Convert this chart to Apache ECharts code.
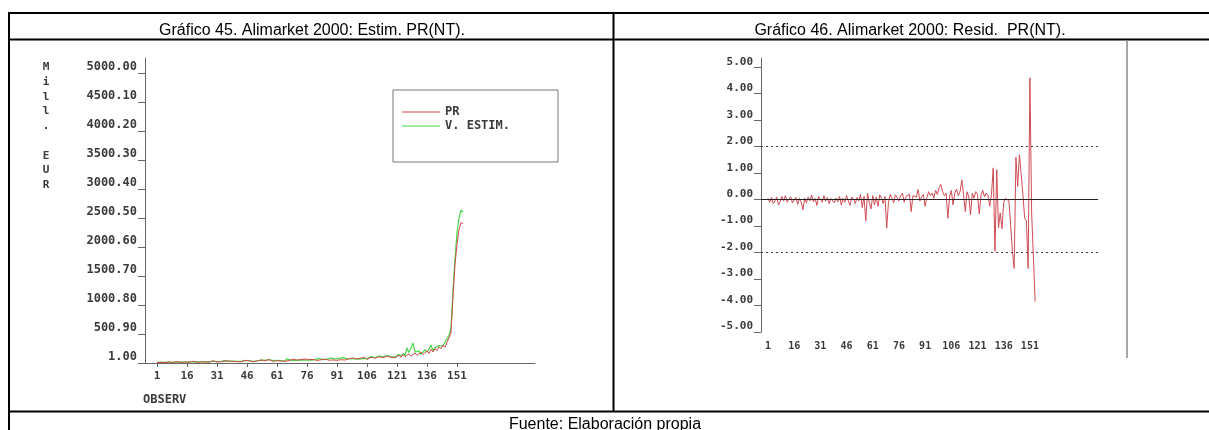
<!DOCTYPE html>
<html>
<head>
<meta charset="utf-8">
<script src="https://cdn.jsdelivr.net/npm/echarts@6.0.0/dist/echarts.min.js"></script>
<style>
  html, body { margin: 0; padding: 0; background: #fff; }
  #chart { width: 1209px; height: 430px; }
</style>
</head>
<body>
<div id="chart"></div>
<script>
// ---------- DATA ----------
const titleLeft = 'Gráfico 45. Alimarket 2000: Estim. PR(NT).';
const titleRight = 'Gráfico 46. Alimarket 2000: Resid.  PR(NT).';
const sourceNote = 'Fuente: Elaboración propia';
const yNameLeft = ['M', 'i', 'l', 'l', '.', ' ', 'E', 'U', 'R'];
const xNameLeft = 'OBSERV';
const legendNames = ['PR', 'V. ESTIM.'];

// tick labels
const xTickLabels = [1, 16, 31, 46, 61, 76, 91, 106, 121, 136, 151];
const leftYTicks = [1.00, 500.90, 1000.80, 1500.70, 2000.60, 2500.50, 3000.40, 3500.30, 4000.20, 4500.10, 5000.00];
const rightYTicks = [-5, -4, -3, -2, -1, 0, 1, 2, 3, 4, 5];
const bandLimits = [2, -2];

// PR (observed), obs 1..154
const prValues = [
  8, 14, 11, 19, 9, 16, 22, 13, 10, 18,
  25, 15, 12, 21, 17, 28, 14, 19, 31, 16,
  12, 24, 20, 35, 18, 27, 15, 22, 38, 26,
  19, 30, 23, 17, 41, 25, 33, 20, 29, 44,
  24, 36, 21, 30, 48, 27, 39, 32, 22, 46,
  35, 28, 52, 31, 43, 26, 58, 37, 30, 50,
  41, 62, 34, 47, 29, 55, 44, 38, 66, 40,
  52, 35, 61, 48, 70, 42, 57, 39, 64, 51,
  45, 73, 56, 41, 68, 60, 49, 78, 53, 62,
  47, 71, 58, 84, 52, 66, 75, 59, 90, 63,
  70, 55, 88, 67, 96, 61, 79, 102, 72, 85,
  68, 110, 81, 93, 74, 118, 86, 99, 125, 90,
  104, 135, 97, 148, 112, 126, 160, 118, 140, 175,
  132, 155, 190, 148, 170, 210, 165, 235, 190, 250,
  215, 280, 245, 310, 270, 360, 330, 520, 1150, 1700,
  2050, 2300, 2420, 2400
];

// V. ESTIM. (fitted), obs 1..154
const estValues = [
  12, 11, 15, 14, 13, 18, 17, 15, 14, 19,
  20, 18, 17, 22, 21, 24, 19, 23, 26, 21,
  20, 25, 24, 29, 23, 28, 22, 26, 32, 28,
  25, 31, 28, 24, 36, 29, 34, 27, 32, 39,
  30, 37, 28, 35, 43, 33, 40, 36, 30, 45,
  40, 35, 50, 38, 47, 36, 62, 45, 41, 55,
  48, 70, 43, 52, 40, 75, 50, 47, 80, 49,
  58, 45, 72, 56, 78, 51, 66, 50, 74, 60,
  55, 80, 63, 58, 75, 68, 59, 88, 62, 70,
  60, 82, 68, 95, 64, 76, 85, 70, 98, 72,
  80, 68, 99, 78, 108, 75, 92, 112, 84, 96,
  82, 118, 93, 106, 88, 128, 100, 112, 136, 104,
  118, 150, 112, 165, 130, 260, 180, 150, 345, 190,
  160, 210, 150, 175, 230, 190, 240, 310, 215, 265,
  240, 300, 330, 290, 360, 420, 480, 600, 1250, 1800,
  2250, 2500, 2640, 2600
];

// standardized residuals, obs 1..154
const residValues = [
  0.05, -0.10, 0.08, -0.15, -0.05, 0.10, -0.20, -0.08, 0.12, -0.05,
  0.15, -0.10, 0.02, 0.10, -0.12, -0.05, 0.08, -0.18, 0.05, -0.10,
  -0.38, 0.06, -0.12, 0.10, -0.05, 0.18, -0.08, 0.05, -0.22, 0.12,
  0.02, -0.10, 0.15, -0.06, 0.08, -0.15, 0.04, 0.10, -0.12, 0.06,
  -0.08, 0.12, -0.20, 0.05, -0.10, 0.15, -0.05, -0.22, 0.10, 0.02,
  -0.15, 0.08, -0.05, 0.20, -0.30, 0.12, -0.80, 0.25, -0.10, -0.35,
  0.15, -0.20, 0.10, -0.25, 0.18, 0.05, -0.15, 0.12, -1.07, -0.10,
  0.20, 0.05, -0.12, 0.18, 0.08, -0.05, 0.15, 0.25, -0.10, 0.12,
  0.05, 0.20, -0.45, 0.15, 0.22, 0.10, 0.38, -0.05, 0.12, 0.20,
  -0.25, 0.08, 0.30, 0.15, 0.25, 0.05, 0.35, 0.20, 0.45, 0.57,
  0.30, 0.15, 0.25, -0.70, 0.10, 0.35, -0.20, 0.25, 0.40, 0.15,
  0.30, 0.75, 0.20, -0.45, 0.30, 0.10, -0.57, 0.25, 0.05, 0.30,
  0.20, -0.54, 0.15, 0.35, 0.10, 0.25, 0.15, -0.25, 0.20, 1.20,
  -1.95, 1.13, -1.07, -0.50, -1.10, -0.10, 0.05, 0.10, -0.05, 0.00,
  -1.95, -2.60, 1.60, 0.50, 1.70, 1.70, 0.20, -0.70, -0.80, -2.60,
  4.60, -0.50, -0.44, -3.85
];

// ---------- BUILD ----------
const pairs = arr => arr.map((v, i) => [i + 1, v]);
const MONO = '"DejaVu Sans Mono", monospace';
const SANS = '"Liberation Sans", Arial, sans-serif';
const axisGray = '#666';
const labelColor = '#3a3a3a';

function hline(x1, x2, y, w, c) {
  return { type: 'line', silent: true, shape: { x1: x1, y1: y, x2: x2, y2: y }, style: { stroke: c || '#000', lineWidth: w } };
}
function vline(x, y1, y2, w, c) {
  return { type: 'line', silent: true, shape: { x1: x, y1: y1, x2: x, y2: y2 }, style: { stroke: c || '#000', lineWidth: w } };
}

const chart = echarts.init(document.getElementById('chart'), null, { renderer: 'canvas' });

const option = {
  animation: false,
  backgroundColor: '#fff',
  grid: [
    { left: 145, top: 58, width: 390, height: 305 },
    { left: 761, top: 58, width: 337, height: 274 }
  ],
  legend: {
    data: legendNames,
    left: 393, top: 90,
    orient: 'vertical',
    icon: 'rect',
    itemWidth: 38, itemHeight: 1,
    itemGap: 0,
    borderColor: '#777', borderWidth: 1,
    padding: [15, 48, 29, 9],
    textStyle: { fontFamily: MONO, fontWeight: 'bold', fontSize: 12, color: labelColor, lineHeight: 14 }
  },
  xAxis: [
    {
      gridIndex: 0, type: 'value', min: -5, max: 190,
      axisLine: { onZero: false, lineStyle: { color: axisGray, width: 1 } },
      axisTick: { customValues: xTickLabels, length: 4, lineStyle: { color: axisGray } },
      axisLabel: { customValues: xTickLabels, margin: 8, fontFamily: MONO, fontWeight: 'bold', fontSize: 11, color: labelColor },
      splitLine: { show: false }
    },
    {
      gridIndex: 1, type: 'value', min: -3, max: 190,
      axisLine: { show: false, onZero: false },
      axisTick: { show: false },
      axisLabel: { customValues: xTickLabels, margin: 9, fontFamily: MONO, fontWeight: 'bold', fontSize: 10, color: labelColor },
      splitLine: { show: false }
    }
  ],
  yAxis: [
    {
      gridIndex: 0, type: 'value', min: 1, max: 5259,
      axisLine: { show: true, onZero: false, lineStyle: { color: axisGray, width: 1 } },
      axisTick: { show: true, customValues: leftYTicks, length: 7, lineStyle: { color: axisGray } },
      axisLabel: {
        customValues: leftYTicks, margin: 8, verticalAlign: 'bottom',
        fontFamily: MONO, fontWeight: 'bold', fontSize: 12, color: labelColor,
        formatter: v => Number(v).toFixed(2)
      },
      splitLine: { show: false }
    },
    {
      gridIndex: 1, type: 'value', min: -5, max: 5.35,
      axisLine: { show: true, onZero: false, lineStyle: { color: axisGray, width: 1 } },
      axisTick: { show: true, customValues: rightYTicks, length: 7, lineStyle: { color: axisGray } },
      axisLabel: {
        customValues: rightYTicks, margin: 8, verticalAlign: 'bottom',
        fontFamily: MONO, fontWeight: 'bold', fontSize: 11, color: labelColor,
        formatter: v => Number(v).toFixed(2)
      },
      splitLine: { show: false }
    }
  ],
  series: [
    {
      name: 'V. ESTIM.', type: 'line', xAxisIndex: 0, yAxisIndex: 0,
      data: pairs(estValues), symbol: 'none', color: '#46d846',
      lineStyle: { color: '#46d846', width: 1.2 }
    },
    {
      name: 'PR', type: 'line', xAxisIndex: 0, yAxisIndex: 0,
      data: pairs(prValues), symbol: 'none', color: '#d24a4a',
      lineStyle: { color: '#d24a4a', width: 1 }
    },
    {
      name: 'Resid', type: 'line', xAxisIndex: 1, yAxisIndex: 1,
      data: pairs(residValues), symbol: 'none', color: '#d04c54',
      lineStyle: { color: '#d04c54', width: 1 },
      markLine: {
        silent: true, symbol: 'none', label: { show: false },
        data: [
          { yAxis: 0, lineStyle: { type: 'solid', color: '#222', width: 1 } },
          { yAxis: bandLimits[0], lineStyle: { type: [2, 3], color: '#444', width: 1 } },
          { yAxis: bandLimits[1], lineStyle: { type: [2, 3], color: '#444', width: 1 } }
        ]
      }
    }
  ],
  graphic: [
    // table borders
    hline(8, 1209, 13, 2),
    hline(8, 1209, 39.5, 2),
    hline(8, 1209, 411.5, 2),
    vline(9, 12, 430, 2),
    vline(613.5, 12, 412, 2),
    // border of the residual picture
    vline(1127, 40, 358, 1.5, '#888'),
    // headings
    { type: 'text', silent: true, style: { text: titleLeft, x: 312, y: 31, align: 'center', verticalAlign: 'middle', font: '16px ' + SANS, fill: '#000' } },
    { type: 'text', silent: true, style: { text: titleRight, x: 910, y: 31, align: 'center', verticalAlign: 'middle', font: '16px ' + SANS, fill: '#000' } },
    { type: 'text', silent: true, style: { text: sourceNote, x: 605, y: 425, align: 'center', verticalAlign: 'middle', font: '16px ' + SANS, fill: '#000' } },
    // axis names
    { type: 'text', silent: true, style: { text: yNameLeft.join('\n'), x: 46, y: 60, align: 'center', verticalAlign: 'top', lineHeight: 14.75, font: 'bold 11px ' + MONO, fill: labelColor } },
    { type: 'text', silent: true, style: { text: xNameLeft, x: 143, y: 400, align: 'left', verticalAlign: 'middle', font: 'bold 12px ' + MONO, fill: labelColor } }
  ]
};

chart.setOption(option);
</script>
</body>
</html>
